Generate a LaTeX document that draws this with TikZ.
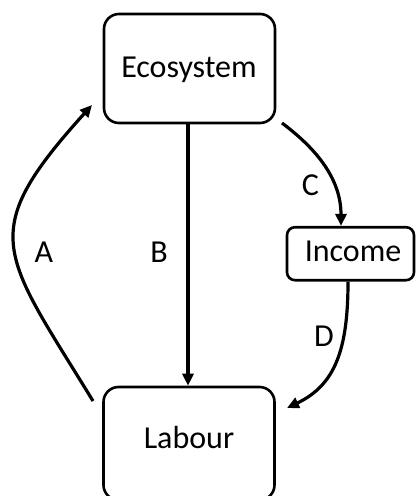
\documentclass[tikz,border=0pt]{standalone}
\usepackage{fontspec}
\setmainfont{Carlito}
\usetikzlibrary{arrows.meta}
\begin{document}
\begin{tikzpicture}[x=1pt,y=-1pt,
  box/.style={draw, line width=2.6pt, rectangle, rounded corners=15pt, inner sep=0pt},
  smallbox/.style={draw, line width=2.6pt, rectangle, rounded corners=8pt, inner sep=0pt},
  txt/.style={anchor=base, inner sep=0pt, font=\fontsize{32}{38}\selectfont},
  conn/.style={line width=3.2pt, -{Triangle[length=12pt,width=11pt]}}
]
\useasboundingbox (0,0) rectangle (416,496);
\node[box, minimum width=171pt, minimum height=109pt] (eco) at (189.5,68.5) {};
\node[box, minimum width=171pt, minimum height=113pt] (lab) at (189,443.5) {};
\node[smallbox, minimum width=127pt, minimum height=53pt] (inc) at (350.5,253.7) {};
\node[txt] (ecot) at (189,77) {Ecosystem};
\node[txt] (labt) at (189,448) {Labour};
\node[txt] (inct) at (353,261.7) {Income};
\node[txt] (la) at (44,262.7) {A};
\node[txt] (lb) at (159,262.7) {B};
\node[txt] (lc) at (310.5,195.7) {C};
\node[txt] (ld) at (324,346.7) {D};
\coordinate (aS) at (93,401);
\coordinate (aE) at (92,105);
\coordinate (cS) at (282,123);
\coordinate (dE) at (287,408);
\draw[conn] (aS) .. controls (2,252) and (-25,234.5) .. (aE);
\draw[conn] (eco.south -| 188,0) -- (lab.north -| 188,0);
\draw[conn] (cS) .. controls (318,150) and (341,180) .. (inc.north -| 341,0);
\draw[conn] (inc.south -| 348,0) .. controls (348,350) and (335,385) .. (dE);
\end{tikzpicture}
\end{document}
